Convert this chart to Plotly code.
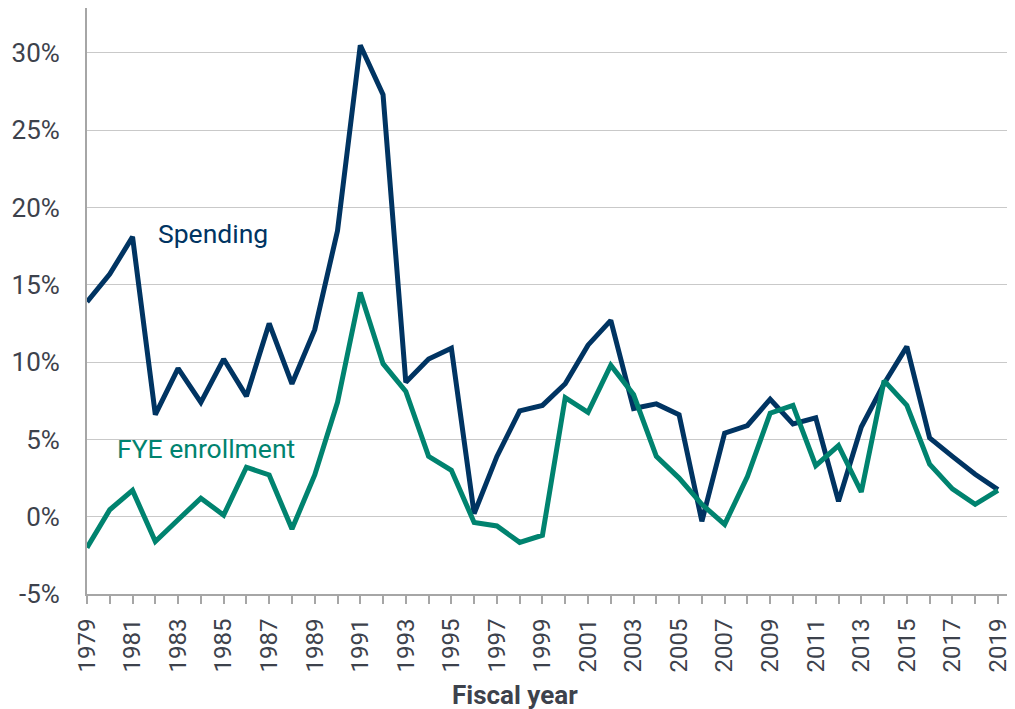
import plotly.graph_objects as go

years = list(range(1979, 2020))
spending = [13.9, 15.7, 18.1, 6.6, 9.6, 7.4, 10.2, 7.8, 12.5, 8.6,
            12.1, 18.5, 30.5, 27.3, 8.7, 10.2, 10.9, 0.2, 3.9, 6.85,
            7.2, 8.6, 11.1, 12.7, 7.0, 7.3, 6.6, -0.3, 5.4, 5.9,
            7.6, 6.0, 6.4, 1.0, 5.8, 8.6, 11.0, 5.1, 3.9, 2.75, 1.75]
enrollment = [-2.0, 0.45, 1.7, -1.6, -0.2, 1.2, 0.1, 3.2, 2.7, -0.8,
              2.7, 7.4, 14.5, 9.9, 8.1, 3.9, 3.0, -0.37, -0.6, -1.66,
              -1.2, 7.7, 6.75, 9.8, 7.9, 3.9, 2.5, 0.8, -0.5, 2.6,
              6.7, 7.2, 3.3, 4.6, 1.6, 8.8, 7.2, 3.4, 1.8, 0.8, 1.7]
y_ticks = [-5, 0, 5, 10, 15, 20, 25, 30]
y_ticktext = ["-5%", "0%", "5%", "10%", "15%", "20%", "25%", "30%"]
x_ticktext = [str(y) if y % 2 == 1 else "" for y in years]

navy = "#003462"
teal = "#00836f"
txt = "#3d424c"

fig = go.Figure()
fig.add_trace(go.Scatter(x=years, y=spending, mode="lines", name="Spending",
                         line=dict(color=navy, width=5)))
fig.add_trace(go.Scatter(x=years, y=enrollment, mode="lines", name="FYE enrollment",
                         line=dict(color=teal, width=5)))

# page body has an 8px margin; figure sized/offset to compensate
fig.update_layout(
    width=1007, height=701,
    margin=dict(l=79, r=0, t=0, b=115),
    plot_bgcolor="white", paper_bgcolor="white",
    showlegend=False,
    font=dict(family="Roboto", color=txt),
)
fig.update_xaxes(
    range=[1979, 2019.75],
    tickvals=years, ticktext=x_ticktext, tickangle=-90,
    ticks="outside", ticklen=8, tickwidth=2, tickcolor="#a6a6a6",
    ticklabelstandoff=5,
    showline=True, linecolor="#a6a6a6", linewidth=2,
    showgrid=False, zeroline=False,
    tickfont=dict(family="Roboto", size=24, color=txt),
)
fig.update_yaxes(
    range=[-5, 32.91],
    tickvals=y_ticks, ticktext=y_ticktext,
    showline=True, linecolor="#a6a6a6", linewidth=2,
    showgrid=True, gridcolor="#c9c9c9", gridwidth=1,
    zeroline=False, ticks="", ticklabelstandoff=20,
    tickfont=dict(family="Roboto", size=26, color=txt),
)
fig.add_annotation(text="<b>Fiscal year</b>", xref="paper", yref="paper",
                   x=(515 - 87) / 928, y=-101 / 586, xanchor="center", yanchor="middle",
                   showarrow=False, font=dict(family="Roboto", size=26, color=txt))
fig.add_annotation(text="Spending", xref="x", yref="y", x=1982.05, y=18.3,
                   xanchor="left", yanchor="middle", showarrow=False,
                   font=dict(family="Roboto", size=26.5, color=navy))
fig.add_annotation(text="FYE enrollment", xref="x", yref="y", x=1980.25, y=4.43,
                   xanchor="left", yanchor="middle", showarrow=False,
                   font=dict(family="Roboto", size=26.5, color=teal))

fig.write_html("out.html")
